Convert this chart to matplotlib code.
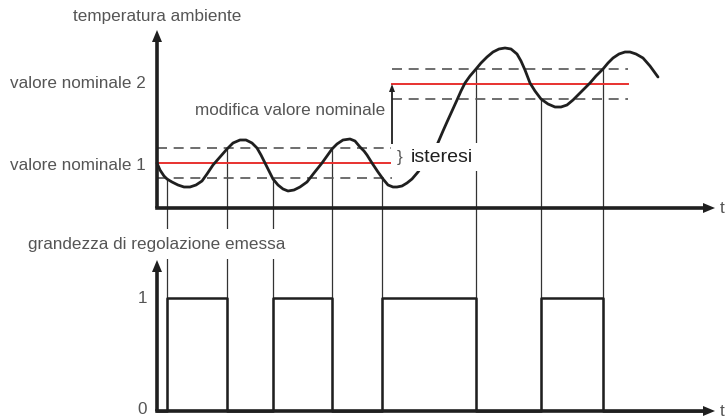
import matplotlib.pyplot as plt

plt.rcParams['font.family'] = ['Liberation Sans', 'DejaVu Sans']

# diagram coordinates: x = time, y = height on the sheet (grows downwards)
curve_t = [157, 160, 164, 167, 172, 178, 184, 190, 196, 202, 207, 213, 220, 227,
           233, 240, 246, 252, 257, 261, 265, 269, 273, 278, 283, 288, 294, 300,
           307, 314, 322, 327, 332, 337, 343, 350, 355, 360, 364, 367, 372, 378,
           383, 388, 393, 397, 402, 407, 412, 418, 424, 430, 437, 443, 447, 452,
           457, 461, 465, 470, 476, 481, 487, 493, 499, 505, 511, 517, 521, 525,
           530, 535, 541, 548, 555, 561, 567, 573, 580, 586, 590, 596, 603, 608,
           613, 619, 625, 630, 636, 643, 650, 658]
curve_temp = [163, 170, 176, 179, 182, 185, 187, 187, 185, 181, 174, 165, 157, 149,
              143, 140, 140, 143, 148, 155, 163, 171, 179, 185, 189, 191, 190, 187,
              182, 173, 163, 156, 149, 144, 140, 139, 141, 147, 151, 155, 163, 172,
              179, 185, 187, 187, 186, 183, 179, 172, 163, 154, 145, 131, 122, 111,
              100, 91, 83, 76, 69, 63, 57, 52, 49, 48, 49, 54, 61, 70,
              83, 91, 99, 104, 107, 107, 105, 100, 93, 87, 83, 76, 69, 63,
              58, 54, 52, 52, 54, 58, 66, 77]

setpoint_1 = 163
setpoint_2 = 84
hysteresis = 15
t_change = 392
t_end_1 = 392
t_end_2 = 628

switch_t = [167, 227, 273, 332, 382, 476, 541, 603]
switch_state = [1, 0, 1, 0, 1, 0, 1, 0]

top_base = 208      # t axis of the upper diagram
low_base = 411      # t axis of the lower diagram
low_one = 298       # level "1" of the output
t_axis_end = 715

ink = '#1f1f1f'
grey_text = '#555555'

fig = plt.figure(figsize=(7.25, 4.19), dpi=100)
ax = fig.add_axes([0, 0, 1, 1])
ax.set_xlim(0, 725)
ax.set_ylim(419, 0)
ax.axis('off')


def arrow_head(x, y, direction, length=12, half=5):
    if direction == 'up':
        pts = [(x, y), (x - half, y + length), (x + half, y + length)]
    else:
        pts = [(x, y), (x - length, y - half), (x - length, y + half)]
    ax.fill([p[0] for p in pts], [p[1] for p in pts], color=ink, lw=0, zorder=6)


# axes of both diagrams
ax.plot([157, 157], [top_base, 40], color=ink, lw=2.6, zorder=5, solid_capstyle='butt')
ax.plot([157, t_axis_end - 10], [top_base, top_base], color=ink, lw=2.6, zorder=5)
arrow_head(157, 30, 'up')
arrow_head(t_axis_end, top_base, 'right')
ax.plot([157, 157], [low_base, 270], color=ink, lw=2.6, zorder=5, solid_capstyle='butt')
ax.plot([157, t_axis_end - 10], [low_base, low_base], color=ink, lw=2.6, zorder=5)
arrow_head(157, 260, 'up')
arrow_head(t_axis_end, low_base, 'right')

# set points and hysteresis bands
ax.plot([157, t_end_1], [setpoint_1, setpoint_1], color='#e8312f', lw=1.4, zorder=3)
ax.plot([t_change, t_end_2], [setpoint_2, setpoint_2], color='#e8312f', lw=1.4, zorder=3)
for sp, t0, t1 in [(setpoint_1, 157, t_end_1), (setpoint_2, t_change, t_end_2)]:
    for band in (sp - hysteresis, sp + hysteresis):
        ax.plot([t0, t1], [band, band], color='#555555', lw=1.2,
                dashes=(6, 4), zorder=3)

# set point change arrow
ax.plot([t_change, t_change], [setpoint_1, setpoint_2 + 8], color=ink, lw=1.3, zorder=4)
arrow_head(t_change, setpoint_2, 'up', length=8, half=3)

# temperature curve
ax.plot(curve_t, curve_temp, color=ink, lw=2.0, zorder=4, solid_capstyle='round',
        solid_joinstyle='round')

# switching instants: from the band crossing down to the output axis
for i, t in enumerate(switch_t):
    sp = setpoint_1 if t < t_change else setpoint_2
    start = sp + hysteresis if switch_state[i] == 1 else sp - hysteresis
    ax.plot([t, t], [start, low_base], color='#333333', lw=0.9, zorder=2)

# controller output (square wave)
out_t = [157] + switch_t + [t_axis_end - 12]
out_y = [low_base] + [low_base - s * (low_base - low_one) for s in switch_state] + [low_base]
ax.step(out_t, out_y, where='post', color=ink, lw=1.8, zorder=4)

# texts
fs = 12.3
ax.text(157, 17, 'temperatura ambiente', ha='center', va='center', fontsize=fs,
        color=grey_text)
ax.text(10, setpoint_2, 'valore nominale 2', ha='left', va='center', fontsize=fs,
        color=grey_text)
ax.text(10, setpoint_1 + 2, 'valore nominale 1', ha='left', va='center', fontsize=fs,
        color=grey_text)
ax.text(385, 110, 'modifica valore nominale', ha='right', va='center', fontsize=fs,
        color=grey_text)
ax.text(397, 157, '}', ha='left', va='center', fontsize=fs, color=grey_text, zorder=7,
        bbox=dict(facecolor='white', edgecolor='none', pad=4))
ax.text(411, 157, 'isteresi', ha='left', va='center', fontsize=14, color=ink,
        zorder=7, bbox=dict(facecolor='white', edgecolor='none', pad=4))
ax.text(720, top_base, 't', ha='left', va='center', fontsize=fs, color=grey_text)
ax.text(157, 244, 'grandezza di regolazione emessa', ha='center', va='center',
        fontsize=fs, color=grey_text, zorder=7,
        bbox=dict(facecolor='white', edgecolor='none', pad=5))
ax.text(147, low_one, '1', ha='right', va='center', fontsize=fs, color=grey_text)
ax.text(147, low_base - 2, '0', ha='right', va='center', fontsize=fs, color=grey_text)
ax.text(720, low_base, 't', ha='left', va='center', fontsize=fs, color=grey_text)

fig.savefig('out.png', dpi=100, facecolor='white')
